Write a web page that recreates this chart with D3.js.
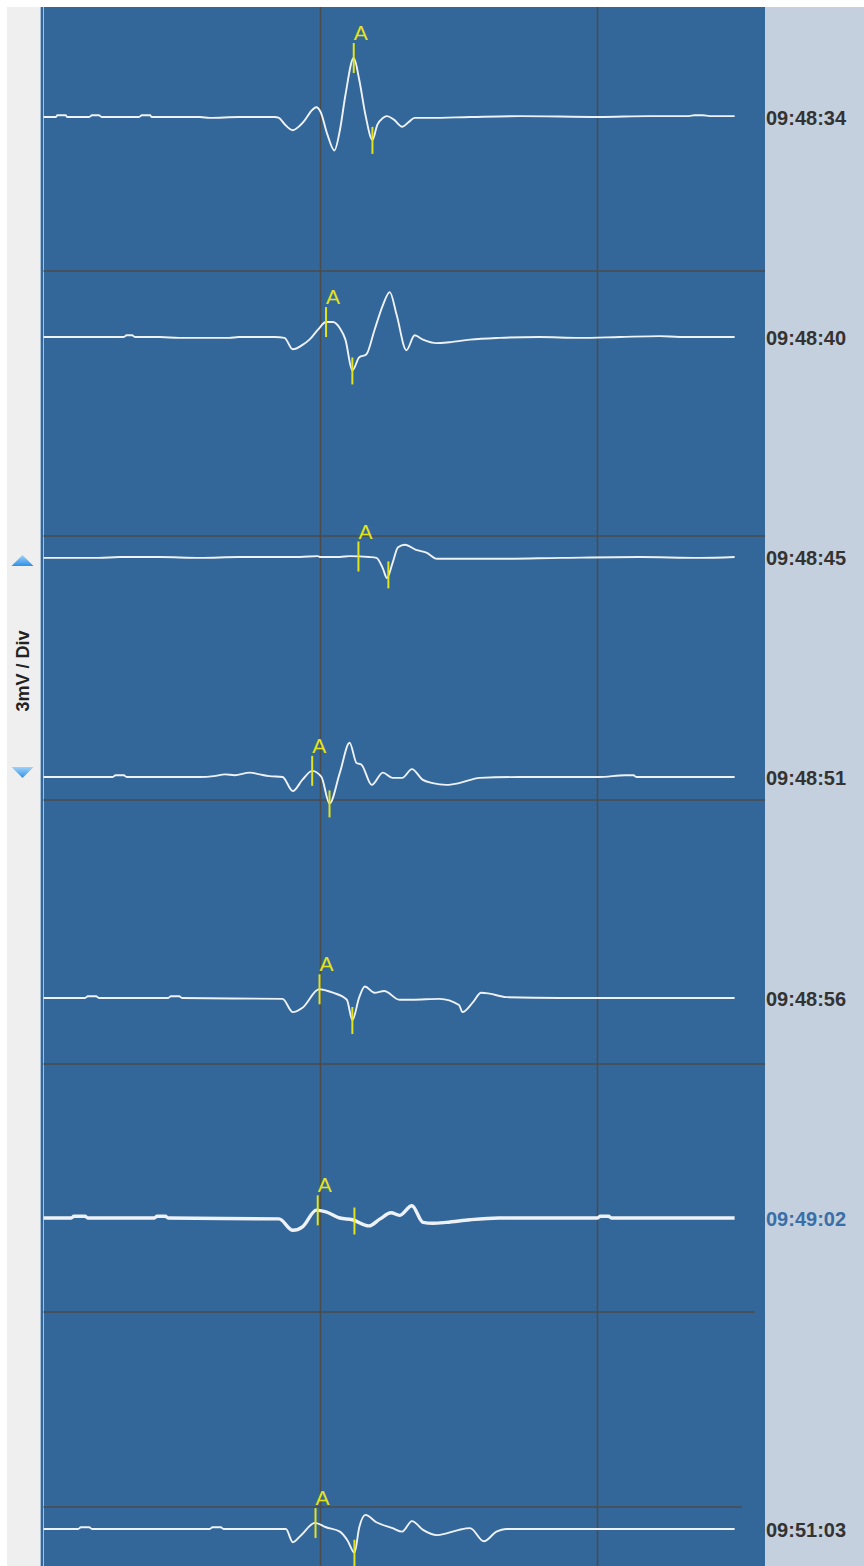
<!DOCTYPE html>
<html>
<head>
<meta charset="utf-8">
<script src="https://d3js.org/d3.v7.min.js"></script>
<style>
  html, body { margin: 0; padding: 0; background: #fff; }
  svg { display: block; }
</style>
</head>
<body>
<div id="chart"></div>
<script>
// time stamps shown at the right of each row
const stamps = ['09:48:34', '09:48:40', '09:48:45', '09:48:51', '09:48:56', '09:49:02', '09:51:03'];
const selectedStamp = '09:49:02';

// beats: [time ms, mV]
const beat1 = [[0,0],[9,0],[10,0.02],[16,0.02],[17,0],[33,0],[35,0.02],[40,0.02],[42,0],[69,0],[71,0.02],[77,0.02],[78,0],
  [113,0],[120,-0.01],[141,0],[167,0],[170,-0.01],[174,-0.08],[180,-0.15],[185,-0.1],[188,-0.05],[194,0.08],[197,0.11],
  [200,0.06],[205,-0.2],[210,-0.38],[214,-0.15],[218,0.25],[224,0.67],[228,0.42],[232.5,0.02],[237.5,-0.26],[241,-0.09],
  [245,-0.01],[248,0.01],[253,-0.03],[259,-0.11],[263.5,-0.06],[268,-0.01],[279,-0.01],[308,0],[344,0.01],[401,0],
  [437,0.01],[466,0.01],[470,0.02],[476,0.02],[481,0.01],[499,0.01]];
const beat2 = [[0,0],[58,0],[60,0.02],[64,0.02],[66,0],[84,0],[98,-0.01],[134,-0.01],[141,0],[167,0],[174,-0.01],
  [180,-0.14],[187,-0.09],[192,-0.03],[198,0.08],[204,0.17],[209,0.17],[214,0.1],[218,-0.03],[223,-0.38],[228,-0.23],
  [233,-0.2],[239,0.08],[245,0.36],[250,0.51],[255,0.25],[262,-0.15],[268,0.02],[274,-0.03],[284,-0.07],[293,-0.06],
  [308,-0.03],[329,-0.01],[358,0],[387,-0.01],[416,0],[445,0.01],[459,0],[499,0]];
const beat3 = [[0,-0.01],[40,-0.01],[55,0],[84,0],[113,-0.01],[141,0],[185,0],[198,0.01],[200,0],[214,0],[221,0.01],
  [235,0],[240.4,-0.01],[245,-0.13],[248,-0.24],[252,-0.07],[256,0.11],[261,0.14],[269,0.08],[276.5,0.05],[284,-0.02],
  [293,-0.02],[329,-0.02],[373,-0.01],[430,0],[474,-0.01],[499,0]];
const beat4 = [[0,0],[50,0],[52,0.02],[58,0.02],[60,0],[113,0],[123,0.01],[131,0.03],[138,0.02],[149,0.05],[156,0.03],
  [163,0.01],[172.6,0],[180,-0.16],[187,-0.03],[194,0.07],[200.7,0],[206.5,-0.3],[214,0.05],[221,0.39],[226,0.16],
  [229.6,0.14],[237,-0.09],[245,0.05],[252,-0.01],[259,-0.01],[266,0.09],[273.6,-0.03],[281,-0.07],[291,-0.09],
  [300,-0.07],[315,-0.01],[344,0],[401,0],[420,0.02],[426,0.02],[428,0],[474,0],[499,0]];
const beat5 = [[0,0],[30,0],[32,0.02],[38,0.02],[40,0],[90,0],[92,0.02],[98,0.02],[100,0],[172.6,-0.01],[180,-0.16],
  [187,-0.11],[199,0.1],[209,0.06],[219,-0.02],[223,-0.25],[228,0.01],[232,0.13],[239,0.06],[246,0.08],[257,-0.02],
  [266,-0.02],[286,-0.01],[300,-0.08],[302.5,-0.16],[310,-0.05],[316,0.06],[322,0.05],[334,0.01],[373,0],[499,0]];
const beat6 = [[0,0],[20,0],[22,0.02],[30,0.02],[32,0],[80,0],[82,0.02],[88,0.02],[90,0],[170,-0.01],[180,-0.14],
  [187,-0.1],[197,0.09],[204,0.07],[214,0],[223,-0.02],[235,-0.09],[243,-0.01],[251,0.06],[257,0.03],[266,0.14],
  [274,-0.05],[281,-0.06],[291,-0.05],[308,-0.02],[329,0],[400,0],[402,0.02],[408,0.02],[410,0],[499,0]];
const beat7 = [[0,0],[25,0],[27,0.02],[33,0.02],[35,0],[120,0],[122,0.02],[128,0.02],[130,0],[175,0],[180,-0.15],
  [186,-0.07],[196,0.07],[204,0.02],[214,-0.03],[219.5,-0.13],[224.5,-0.27],[228,0.02],[232.5,0.16],[240,0.08],
  [252,0.01],[259,-0.03],[266,0.09],[274,-0.01],[284,-0.07],[291,-0.05],[300,-0.01],[308,0.01],[318,-0.14],[327,-0.03],
  [334,0],[499,0]];
const beats = [beat1, beat2, beat3, beat4, beat5, beat6, beat7];

// annotation marks: "A" marker time and second marker time (ms)
const markA = [224, 204, 227.4, 194, 199.3, 198, 196.4];
const markB = [237.5, 223, 249, 206.5, 223, 224.5, 224.5];

const timeGrid = [200, 400];
const gainLabel = '3mV / Div';

// ---- layout ----
const W = 864, H = 1566;
const topY = 7;
const plotL = 43.5, plotR = 765;
const rowBase = [117, 337, 557, 777, 998, 1218, 1529];
const rowRules = [[271, 765], [536, 765], [800, 765], [1064, 765], [1312, 755], [1507, 742]];
const pxPerMv = 88;

const svg = d3.select('#chart').append('svg')
  .attr('width', W)
  .attr('height', H);

// background panels
svg.append('rect').attr('width', W).attr('height', H).attr('fill', '#fff');
svg.append('rect').attr('x', 7).attr('y', topY).attr('width', 34).attr('height', H - topY).attr('fill', '#efefef');
svg.append('rect').attr('x', 40).attr('y', topY).attr('width', plotR - 40).attr('height', H - topY).attr('fill', '#336699');
svg.append('rect').attr('x', plotR).attr('y', topY).attr('width', W - plotR).attr('height', H - topY).attr('fill', '#c4d0de');
// left border stripes
[40.5, 43.5].forEach((xx) => {
  svg.append('line')
    .attr('x1', xx).attr('x2', xx)
    .attr('y1', topY).attr('y2', H)
    .attr('stroke', '#a8bfd6')
    .attr('stroke-width', 1);
});

const x = d3.scaleLinear()
  .domain([0, 520])
  .range([plotL, plotL + 520 * 277 / 200]);

// grid
const grid = svg.append('g').attr('class', 'grid');
grid.selectAll('line.v')
  .data(timeGrid)
  .join('line')
  .attr('class', 'v')
  .attr('x1', (d) => x(d)).attr('x2', (d) => x(d))
  .attr('y1', topY).attr('y2', H)
  .attr('stroke', '#4b4b4b')
  .attr('stroke-width', 1.5);
grid.selectAll('line.h')
  .data(rowRules)
  .join('line')
  .attr('class', 'h')
  .attr('x1', plotL).attr('x2', (d) => d[1])
  .attr('y1', (d) => d[0]).attr('y2', (d) => d[0])
  .attr('stroke', '#4b4b4b')
  .attr('stroke-width', 1.5);

// value at time t on a beat (linear interpolation)
const bis = d3.bisector((d) => d[0]).left;
function valueAt(beat, t) {
  const i = bis(beat, t);
  if (i <= 0) return beat[0][1];
  if (i >= beat.length) return beat[beat.length - 1][1];
  const a = beat[i - 1], b = beat[i];
  return a[1] + (b[1] - a[1]) * (t - a[0]) / (b[0] - a[0]);
}

const rows = svg.append('g').attr('class', 'rows');
beats.forEach((beat, i) => {
  const base = rowBase[i];
  const y = d3.scaleLinear().domain([-1, 1]).range([base + pxPerMv, base - pxPerMv]);
  const line = d3.line()
    .curve(d3.curveMonotoneX)
    .x((d) => x(d[0]))
    .y((d) => y(d[1]));
  const g = rows.append('g');
  const selected = stamps[i] === selectedStamp;

  g.append('path')
    .datum(beat)
    .attr('d', line)
    .attr('fill', 'none')
    .attr('stroke', '#eef2f6')
    .attr('stroke-width', selected ? 3.4 : 1.9)
    .attr('stroke-linejoin', 'round');

  // markers
  const yA = y(valueAt(beat, markA[i]));
  const yB = y(valueAt(beat, markB[i]));
  g.append('line')
    .attr('x1', x(markA[i])).attr('x2', x(markA[i]))
    .attr('y1', yA - 15).attr('y2', yA + 15)
    .attr('stroke', '#e3e31c').attr('stroke-width', 2);
  g.append('text')
    .attr('x', x(markA[i]) + 7)
    .attr('y', yA - 18)
    .attr('text-anchor', 'middle')
    .attr('fill', '#e3e31c')
    .attr('font-family', 'Liberation Sans, Arial, sans-serif')
    .attr('font-size', '21px')
    .text('A');
  g.append('line')
    .attr('x1', x(markB[i])).attr('x2', x(markB[i]))
    .attr('y1', yB - 13).attr('y2', yB + 14)
    .attr('stroke', '#e3e31c').attr('stroke-width', 2);

  // time stamp
  g.append('text')
    .attr('x', plotR + 1)
    .attr('y', base + 7.5)
    .attr('fill', selected ? '#3a6ea8' : '#333')
    .attr('font-family', 'Liberation Sans, Arial, sans-serif')
    .attr('font-weight', 'bold')
    .attr('font-size', '20px')
    .text(stamps[i]);
});

// gain control
const cx = 22.5;
const defs = svg.append('defs');
const grad = defs.append('linearGradient').attr('id', 'arrowGrad')
  .attr('x1', 0).attr('y1', 0).attr('x2', 0).attr('y2', 1);
grad.append('stop').attr('offset', '0%').attr('stop-color', '#9fd2fa');
grad.append('stop').attr('offset', '100%').attr('stop-color', '#2f8fe6');
svg.append('path')
  .attr('d', `M${cx - 11},566 L${cx},555 L${cx + 11},566 Z`)
  .attr('fill', 'url(#arrowGrad)');
svg.append('path')
  .attr('d', `M${cx - 11},767 L${cx + 11},767 L${cx},778 Z`)
  .attr('fill', 'url(#arrowGrad)');
svg.append('text')
  .attr('transform', `translate(${cx + 6.5},671) rotate(-90)`)
  .attr('text-anchor', 'middle')
  .attr('fill', '#222')
  .attr('font-family', 'Liberation Sans, Arial, sans-serif')
  .attr('font-weight', 'bold')
  .attr('font-size', '18px')
  .text(gainLabel);
</script>
</body>
</html>
